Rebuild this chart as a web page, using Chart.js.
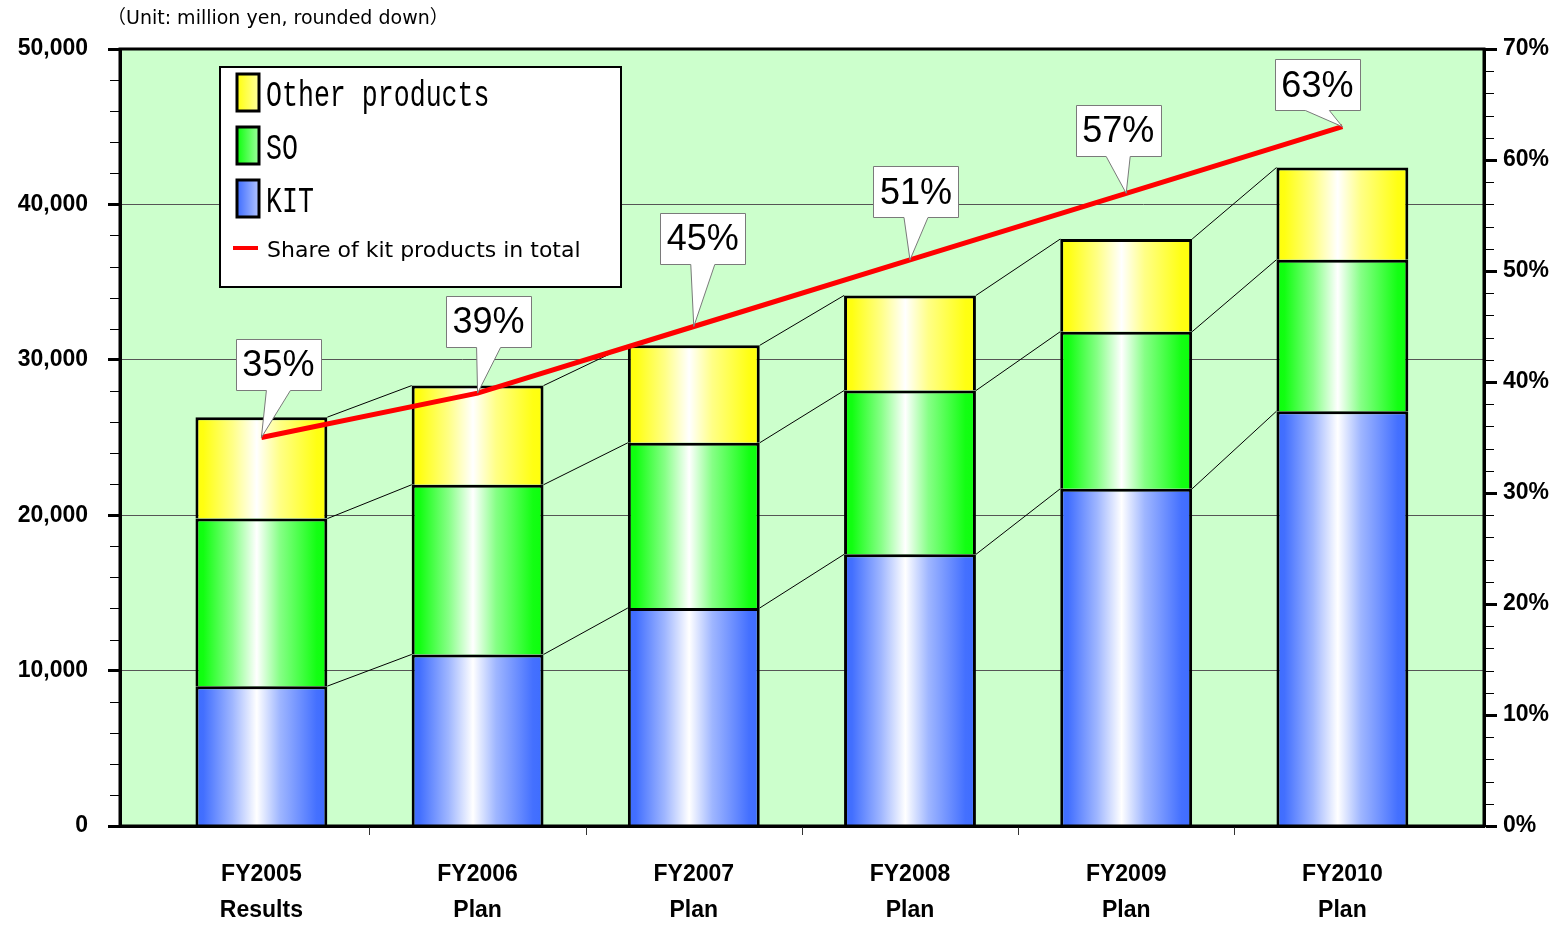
<!DOCTYPE html>
<html>
<head>
<meta charset="utf-8">
<title>Sales by product</title>
<script src="https://cdn.jsdelivr.net/npm/chart.js@4.4.1/dist/chart.umd.min.js"></script>
<style>
  html, body { margin: 0; padding: 0; background: #fff; }
  #wrap { width: 1560px; height: 927px; position: relative; }
</style>
</head>
<body>
<div id="wrap"><canvas id="salesChart"></canvas></div>
<script>
// sales in million yen, share in %
const categories = [['FY2005', 'Results'], ['FY2006', 'Plan'], ['FY2007', 'Plan'], ['FY2008', 'Plan'], ['FY2009', 'Plan'], ['FY2010', 'Plan']];
const kitSales = [9000, 11040, 14030, 17480, 21700, 26690];
const soSales = [10780, 10920, 10630, 10540, 10110, 9750];
const otherSales = [6530, 6380, 6270, 6120, 5960, 5930];
const kitShare = [35, 39, 45, 51, 57, 63];

const salesMax = 50000;
const salesStep = 10000;
const salesMinorStep = 2000;
const shareMax = 70;
const shareStep = 10;
const shareMinorStep = 2;

const unitNote = '（Unit: million yen, rounded down）';

const SANS = '"Liberation Sans", Arial, sans-serif';
const WIDE_SANS = '"DejaVu Sans", "Noto Sans CJK JP", sans-serif';
const BAR_FRAC = 0.61;

const rgb = {
    kit: [62, 108, 255],
    so: [12, 255, 12],
    other: [255, 255, 12]
};

function tint(c, t) {
    const m = c.map(v => Math.round(v + (255 - v) * t));
    return `rgb(${m[0]},${m[1]},${m[2]})`;
}

// horizontal shine: saturated edges, white just left of centre
function shine(g, c) {
    g.addColorStop(0, tint(c, 0));
    g.addColorStop(0.06, tint(c, 0.02));
    g.addColorStop(0.28, tint(c, 0.5));
    g.addColorStop(0.465, '#ffffff');
    g.addColorStop(0.64, tint(c, 0.5));
    g.addColorStop(0.92, tint(c, 0.03));
    g.addColorStop(1, tint(c, 0));
    return g;
}

function barFill(c) {
    return function(ctx) {
        const xs = ctx.chart.scales.x;
        if (!xs || ctx.dataIndex === undefined) return tint(c, 0);
        const cx = xs.getPixelForValue(ctx.dataIndex);
        const half = Math.abs(xs.getPixelForValue(BAR_FRAC / 2) - xs.getPixelForValue(0));
        if (!Number.isFinite(cx) || !Number.isFinite(half) || half === 0) return tint(c, 0);
        return shine(ctx.chart.ctx.createLinearGradient(cx - half, 0, cx + half, 0), c);
    };
}

const toPoints = arr => arr.map((v, i) => ({ x: i, y: v }));

// callout box centre relative to its point
const calloutOffsets = [[17, -73], [11, -72], [9, -88], [6, -68], [-8, -63], [-25, -42]];

const plotBackground = {
    id: 'plotBackground',
    beforeDraw(chart) {
        const { ctx, chartArea: a } = chart;
        ctx.save();
        ctx.fillStyle = '#ffffff';
        ctx.fillRect(0, 0, chart.width, chart.height);
        ctx.fillStyle = '#ccffcc';
        ctx.fillRect(a.left, a.top, a.right - a.left, a.bottom - a.top);
        ctx.fillStyle = '#000';
        ctx.font = '19px ' + WIDE_SANS;
        ctx.textBaseline = 'middle';
        ctx.textAlign = 'left';
        ctx.fillText(unitNote, a.left - 13, 19);
        ctx.restore();
    }
};

// thin lines joining the tops of matching segments
const seriesLines = {
    id: 'seriesLines',
    beforeDatasetsDraw(chart) {
        const ctx = chart.ctx;
        ctx.save();
        ctx.strokeStyle = '#000';
        ctx.lineWidth = 1;
        chart.data.datasets.forEach((ds, di) => {
            if (ds.type === 'line') return;
            const bars = chart.getDatasetMeta(di).data;
            for (let i = 0; i < bars.length - 1; i++) {
                const a = bars[i], b = bars[i + 1];
                ctx.beginPath();
                ctx.moveTo(a.x + a.width / 2, a.y);
                ctx.lineTo(b.x - b.width / 2, b.y);
                ctx.stroke();
            }
        });
        ctx.restore();
    }
};

// short minor ticks on both value axes, category dividers on the x axis, plot frame
const axisMarks = {
    id: 'axisMarks',
    afterDraw(chart) {
        const ctx = chart.ctx;
        const a = chart.chartArea;
        ctx.save();
        ctx.strokeStyle = '#000';
        ctx.lineWidth = 1;
        [['y', salesStep, -1, a.left - 1], ['y2', shareStep, 1, a.right + 1]].forEach(([id, major, dir, x0]) => {
            const s = chart.scales[id];
            s.ticks.forEach(t => {
                if (t.value % major === 0) return;
                const y = Math.round(s.getPixelForValue(t.value)) + 0.5;
                ctx.beginPath();
                ctx.moveTo(x0, y);
                ctx.lineTo(x0 + dir * 9, y);
                ctx.stroke();
            });
        });
        const xs = chart.scales.x;
        ctx.strokeStyle = '#333';
        for (let i = 0; i < categories.length - 1; i++) {
            const x = Math.round(xs.getPixelForValue(i + 0.5)) + 0.5;
            ctx.beginPath();
            ctx.moveTo(x, a.bottom + 1);
            ctx.lineTo(x, a.bottom + 9);
            ctx.stroke();
        }
        // frame of the plot area
        ctx.strokeStyle = '#000';
        ctx.lineWidth = 3;
        ctx.strokeRect(a.left, a.top, a.right - a.left, a.bottom - a.top);
        ctx.restore();
    }
};

const callouts = {
    id: 'callouts',
    afterDatasetsDraw(chart) {
        const ctx = chart.ctx;
        const pts = chart.getDatasetMeta(0).data;
        const w = 85, h = 51;
        ctx.save();
        pts.forEach((p, i) => {
            const cx = p.x + calloutOffsets[i][0];
            const cy = p.y + calloutOffsets[i][1];
            const l = Math.round(cx - w / 2) + 0.5, t = Math.round(cy - h / 2) + 0.5;
            ctx.beginPath();
            ctx.moveTo(l, t);
            ctx.lineTo(l + w, t);
            ctx.lineTo(l + w, t + h);
            ctx.lineTo(cx + 12, t + h);
            ctx.lineTo(p.x, p.y);
            ctx.lineTo(cx - 12, t + h);
            ctx.lineTo(l, t + h);
            ctx.closePath();
            ctx.fillStyle = '#ffffff';
            ctx.fill();
            ctx.strokeStyle = '#7a7a7a';
            ctx.lineWidth = 1;
            ctx.stroke();
            ctx.fillStyle = '#000';
            ctx.font = '36px ' + SANS;
            ctx.textAlign = 'center';
            ctx.textBaseline = 'middle';
            ctx.fillText(kitShare[i] + '%', cx, cy + 2);
        });
        ctx.restore();
    }
};

const boxLegend = {
    id: 'boxLegend',
    afterDraw(chart) {
        const ctx = chart.ctx;
        const a = chart.chartArea;
        const x0 = a.left + 100, y0 = a.top + 18;
        ctx.save();
        ctx.fillStyle = '#ffffff';
        ctx.fillRect(x0, y0, 401, 220);
        ctx.strokeStyle = '#000';
        ctx.lineWidth = 2;
        ctx.strokeRect(x0, y0, 401, 220);

        const ds = chart.data.datasets;
        const rows = [[3, 'other', 25], [2, 'so', 78], [1, 'kit', 131]];
        rows.forEach(([di, key, dy]) => {
            const sx = x0 + 17, sy = y0 + dy - 18;
            const g = ctx.createLinearGradient(sx, 0, sx + 22, 0);
            g.addColorStop(0, tint(rgb[key], 0));
            g.addColorStop(1, tint(rgb[key], 0.6));
            ctx.fillStyle = g;
            ctx.fillRect(sx, sy, 22, 37);
            ctx.lineWidth = 3;
            ctx.strokeStyle = '#000';
            ctx.strokeRect(sx, sy, 22, 37);

            ctx.save();
            ctx.translate(x0 + 46, y0 + dy + 14);
            ctx.scale(0.76, 1.05);
            ctx.fillStyle = '#000';
            ctx.font = '35px "Liberation Mono", "DejaVu Sans Mono", monospace';
            ctx.textBaseline = 'alphabetic';
            ctx.textAlign = 'left';
            ctx.fillText(ds[di].label, 0, 0);
            ctx.restore();
        });

        const ly = y0 + 181;
        ctx.strokeStyle = ds[0].borderColor;
        ctx.lineWidth = 4;
        ctx.beginPath();
        ctx.moveTo(x0 + 13, ly);
        ctx.lineTo(x0 + 38, ly);
        ctx.stroke();
        ctx.fillStyle = '#000';
        ctx.font = '22px ' + WIDE_SANS;
        ctx.textBaseline = 'middle';
        ctx.fillText(ds[0].label, x0 + 47, ly + 3);
        ctx.restore();
    }
};

const tickFont = { family: SANS, size: 23, weight: 'bold' };

new Chart(document.getElementById('salesChart'), {
    type: 'bar',
    data: {
        datasets: [
            {
                type: 'line',
                label: 'Share of kit products in total',
                data: toPoints(kitShare),
                yAxisID: 'y2',
                borderColor: '#ff0000',
                borderWidth: 5,
                pointRadius: 0,
                tension: 0,
                order: 0
            },
            {
                label: 'KIT',
                data: toPoints(kitSales),
                backgroundColor: barFill(rgb.kit),
                borderColor: '#000',
                borderWidth: 3,
                order: 1
            },
            {
                label: 'SO',
                data: toPoints(soSales),
                backgroundColor: barFill(rgb.so),
                borderColor: '#000',
                borderWidth: 3,
                order: 1
            },
            {
                label: 'Other products',
                data: toPoints(otherSales),
                backgroundColor: barFill(rgb.other),
                borderColor: '#000',
                borderWidth: 3,
                order: 1
            }
        ]
    },
    options: {
        responsive: true,
        maintainAspectRatio: false,
        animation: false,
        events: [],
        layout: { padding: { top: 49, left: 0, right: 0, bottom: 0 } },
        datasets: { bar: { barPercentage: BAR_FRAC, categoryPercentage: 1 } },
        plugins: {
            legend: { display: false },
            tooltip: { enabled: false }
        },
        scales: {
            x: {
                type: 'linear',
                offset: false,
                min: -0.654,
                max: categories.length - 0.345,
                stacked: true,
                afterBuildTicks: s => { s.ticks = categories.map((c, i) => ({ value: i })); },
                afterFit: s => { s.height = 101; },
                grid: {
                    offset: false,
                    drawOnChartArea: false,
                    tickLength: 8,
                    tickColor: 'rgba(0,0,0,0)'
                },
                border: { width: 3, color: '#000' },
                ticks: {
                    autoSkip: false,
                    maxRotation: 0,
                    padding: 23,
                    color: '#000',
                    font: Object.assign({ lineHeight: 1.55 }, tickFont),
                    callback: v => categories[v]
                }
            },
            y: {
                position: 'left',
                min: 0,
                max: salesMax,
                stacked: true,
                afterFit: s => { s.width = 120; },
                grid: {
                    color: c => (c.tick && c.tick.value % salesStep === 0) ? '#555555' : 'rgba(0,0,0,0)',
                    lineWidth: 1,
                    tickLength: 12,
                    tickWidth: 3,
                    tickColor: c => (c.tick && c.tick.value % salesStep === 0) ? '#000' : 'rgba(0,0,0,0)'
                },
                border: { width: 3, color: '#000' },
                ticks: {
                    stepSize: salesMinorStep,
                    autoSkip: false,
                    padding: 20,
                    color: '#000',
                    font: tickFont,
                    callback: v => v % salesStep === 0 ? v.toLocaleString('en-US') : ''
                }
            },
            y2: {
                position: 'right',
                min: 0,
                max: shareMax,
                stacked: false,
                afterFit: s => { s.width = 76; },
                grid: {
                    drawOnChartArea: false,
                    tickLength: 13,
                    tickWidth: 3,
                    tickColor: c => (c.tick && c.tick.value % shareStep === 0) ? '#000' : 'rgba(0,0,0,0)'
                },
                border: { width: 3, color: '#000' },
                ticks: {
                    stepSize: shareMinorStep,
                    autoSkip: false,
                    padding: 6,
                    color: '#000',
                    font: tickFont,
                    callback: v => v % shareStep === 0 ? v + '%' : ''
                }
            }
        }
    },
    plugins: [plotBackground, seriesLines, callouts, axisMarks, boxLegend]
});
</script>
</body>
</html>
